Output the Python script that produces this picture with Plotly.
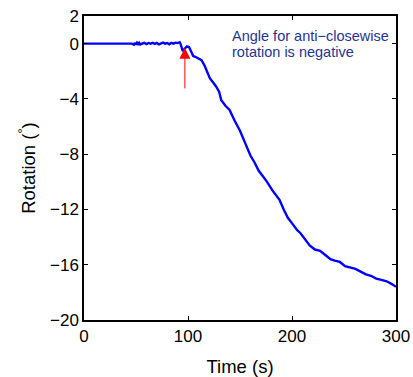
import plotly.graph_objects as go

time_s = [0, 10, 20, 30, 40, 46, 48, 49, 50, 51, 52, 53, 54, 56, 58, 60, 62, 64, 66, 68,
          70, 72, 74, 76, 78, 80, 82, 84, 86, 88, 90, 92, 93, 95, 97, 99, 101, 103, 105, 107,
          110, 113, 116, 118, 121, 124, 127, 130, 132, 136, 140, 145, 150, 155, 160, 164, 168,
          172, 176, 181, 185, 188, 192, 196, 201, 205, 208, 212, 217, 222, 227, 232, 237, 241,
          246, 251, 256, 261, 266, 271, 276, 281, 286, 291, 296, 300]
rotation = [0, 0, 0, 0, 0.01, 0.0, -0.07, 0.06, -0.08, 0.07, -0.03, 0.06, -0.06, 0.03, 0.06, -0.03,
            0.05, 0.0, 0.06, -0.02, 0.05, -0.06, 0.03, 0.07, 0.0, 0.04, -0.05, 0.06, 0.0, 0.07,
            0.04, 0.1, -0.05, -0.55, -0.35, -0.2, -0.25, -0.6, -0.9, -0.95, -1.05, -1.2, -1.6,
            -2.0, -2.5, -2.8, -3.1, -3.5, -4.1, -4.5, -4.8, -5.6, -6.3, -7.2, -8.1, -8.6, -9.2,
            -9.6, -10.0, -10.6, -11.0, -11.3, -12.0, -12.6, -13.1, -13.5, -13.7, -14.1, -14.6,
            -14.9, -15.0, -15.3, -15.6, -15.7, -15.8, -16.1, -16.2, -16.3, -16.5, -16.7, -16.8,
            -17.0, -17.1, -17.2, -17.4, -17.6]

x_ticks = [0, 100, 200, 300]
y_ticks = [2, 0, -4, -8, -12, -16, -20]
y_tick_labels = ["2", "0", "\u22124", "\u22128", "\u221212", "\u221216", "\u221220"]

arrow_t = 97
arrow_tip = -0.3
arrow_tail = -3.35
note_lines = ["Angle for anti\u2212closewise", "rotation is negative"]
note_x = 140.0
note_y = [0.55, -0.6]

font_family = "Liberation Sans, Arial, Helvetica, sans-serif"

fig = go.Figure()
fig.add_trace(go.Scatter(x=time_s, y=rotation, mode="lines",
                         line=dict(color="#0000ff", width=2.4), showlegend=False))

fig.add_annotation(x=arrow_t, y=arrow_tip, ax=arrow_t, ay=arrow_tail, axref="x", ayref="y",
                   xref="x", yref="y", showarrow=True, arrowhead=2, arrowsize=2.2,
                   arrowwidth=1, arrowcolor="#ff0000", text="")
for txt, yy in zip(note_lines, note_y):
    fig.add_annotation(x=note_x, y=yy, xref="x", yref="y", text=txt, showarrow=False,
                       xanchor="left", yanchor="middle", align="left",
                       font=dict(family=font_family, size=14.5, color="#26358f"))

axis_common = dict(showline=True, linecolor="black", linewidth=1.5, mirror="ticks",
                   ticks="inside", ticklen=4, tickcolor="black", tickwidth=1,
                   showgrid=False, zeroline=False, automargin=False,
                   tickfont=dict(family=font_family, size=17, color="black"))

fig.update_xaxes(range=[0, 300], tickvals=x_ticks, ticktext=[str(v) for v in x_ticks],
                 title=dict(text="Time (s)", font=dict(family=font_family, size=18.5, color="black"),
                            standoff=15), **axis_common)
fig.update_yaxes(range=[-20, 2], tickvals=y_ticks, ticktext=y_tick_labels,
                 title=dict(text="Rotation (<sup>\u00b0</sup>)",
                            font=dict(family=font_family, size=18.5, color="black"), standoff=10),
                 **axis_common)

fig.update_layout(width=413, height=377, margin=dict(l=84, r=17, t=16, b=57),
                  plot_bgcolor="white", paper_bgcolor="white")

fig.write_html("out.html", config={"displayModeBar": False},
               post_script="document.body.style.margin='0';document.body.style.overflow='hidden';")
